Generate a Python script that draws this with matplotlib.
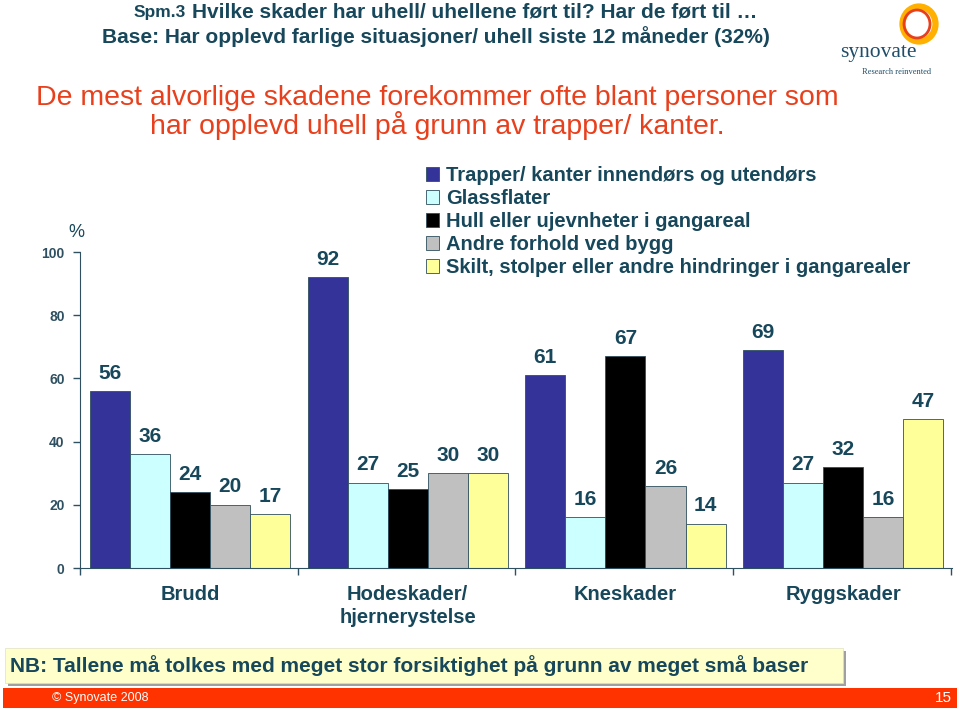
import matplotlib as mpl
mpl.use('Agg')
import matplotlib.pyplot as plt
import matplotlib.patches as patches
import numpy as np

plt.rcParams['font.family'] = ['Liberation Sans', 'DejaVu Sans']

categories = ['Brudd', 'Hodeskader/\nhjernerystelse', 'Kneskader', 'Ryggskader']
series = ['Trapper/ kanter innendørs og utendørs',
          'Glassflater',
          'Hull eller ujevnheter i gangareal',
          'Andre forhold ved bygg',
          'Skilt, stolper eller andre hindringer i gangarealer']
trapper = [56, 92, 61, 69]
glass = [36, 27, 16, 27]
hull = [24, 25, 67, 32]
andre = [20, 30, 26, 16]
skilt = [17, 30, 14, 47]
yticks = [0, 20, 40, 60, 80, 100]

colors = ['#333399', '#CCFFFF', '#000000', '#C0C0C0', '#FFFF99']
txt = '#17475A'
W, H = 960, 710


def fx(x):
    return x / W


def fy(y):
    return 1 - y / H


fig = plt.figure(figsize=(9.6, 7.1), dpi=100)

# titles
fig.text(fx(186), fy(13), 'Spm.3', ha='right', va='center', fontsize=12.5, fontweight='bold', color=txt)
fig.text(fx(192), fy(12), 'Hvilke skader har uhell/ uhellene ført til? Har de ført til …',
         ha='left', va='center', fontsize=15, fontweight='bold', color=txt)
fig.text(fx(436), fy(37), 'Base: Har opplevd farlige situasjoner/ uhell siste 12 måneder (32%)',
         ha='center', va='center', fontsize=15, fontweight='bold', color=txt)
fig.text(fx(437), fy(98), 'De mest alvorlige skadene forekommer ofte blant personer som',
         ha='center', va='center', fontsize=20.5, color='#E8401C')
fig.text(fx(437), fy(126), 'har opplevd uhell på grunn av trapper/ kanter.',
         ha='center', va='center', fontsize=20.5, color='#E8401C')

# logo
fig.patches.append(patches.Ellipse((fx(919), fy(24)), fx(33), 35 / H, fill=False,
                                   lw=4.5, ec='#FFB000', transform=fig.transFigure))
fig.patches.append(patches.Ellipse((fx(917), fy(24)), fx(26), 28 / H, fill=False,
                                   lw=2, ec='#E8401C', transform=fig.transFigure))
fig.text(fx(878), fy(52), 'synovate', ha='center', va='center', fontsize=15.5,
         family='Liberation Serif', color='#1F4E6A')
fig.text(fx(897), fy(72), 'Research reinvented', ha='center', va='center', fontsize=6,
         family='Liberation Serif', color='#1F4E6A')

# chart
ax = fig.add_axes([fx(80), fy(568), fx(872), (568 - 252) / H])
vals = [trapper, glass, hull, andre, skilt]
x = np.arange(len(categories))
bw = 0.184
for i, v in enumerate(vals):
    pos = x + (i - 2) * bw
    ax.bar(pos, v, bw, color=colors[i], edgecolor='#2F4F5F', linewidth=0.6, label=series[i])
    for p, val in zip(pos, v):
        ax.annotate(str(val), (p, val), xytext=(0, 6), textcoords='offset points',
                    ha='center', va='bottom', fontsize=15, fontweight='bold', color=txt)

ax.set_xlim(-0.505, 3.5)
ax.set_ylim(0, 100)
ax.set_yticks(yticks)
ax.set_yticklabels([str(t) for t in yticks], fontsize=10, fontweight='bold', color=txt)
ax.set_xticks(np.arange(-0.505, 3.6, 1.0))
ax.set_xticklabels([])
for t, c in zip(x, categories):
    ax.text(t, -5.5, c, ha='center', va='top', fontsize=14.5, fontweight='bold',
            color=txt, linespacing=1.25)
for s in ['top', 'right']:
    ax.spines[s].set_visible(False)
for s in ['left', 'bottom']:
    ax.spines[s].set_color('#2F5060')
ax.tick_params(axis='both', colors='#2F5060', length=5, width=1)
ax.tick_params(axis='y', pad=6)
ax.text(-0.52, 103.5, '%', ha='center', va='bottom', fontsize=13, color=txt)

leg = ax.legend(loc='upper left', bbox_to_anchor=((418 - 80) / 872, (568 - 158) / 316),
                frameon=False, fontsize=14.5, handlelength=0.65, handleheight=0.65,
                handletextpad=0.35, labelspacing=0.2, borderaxespad=0)
for t in leg.get_texts():
    t.set_color(txt)
    t.set_fontweight('bold')

# note box
fig.patches.append(patches.Rectangle((fx(8), fy(686)), fx(838), 35 / H, fc='#A0A0A0',
                                     ec='none', transform=fig.transFigure))
fig.patches.append(patches.Rectangle((fx(5), fy(683)), fx(838), 35 / H, fc='#FFFFCC',
                                     ec='#E0E0C0', lw=0.5, transform=fig.transFigure))
fig.text(fx(10), fy(666), 'NB: Tallene må tolkes med meget stor forsiktighet på grunn av meget små baser',
         ha='left', va='center', fontsize=15, fontweight='bold', color=txt)

# footer
fig.patches.append(patches.Rectangle((fx(3), fy(708)), fx(954), 20 / H, fc='#FF3300',
                                     ec='none', transform=fig.transFigure))
fig.text(fx(52), fy(698), '© Synovate 2008', ha='left', va='center', fontsize=9, color='white')
fig.text(fx(952), fy(698), '15', ha='right', va='center', fontsize=11, color='white')

plt.savefig('out.png', dpi=100)
